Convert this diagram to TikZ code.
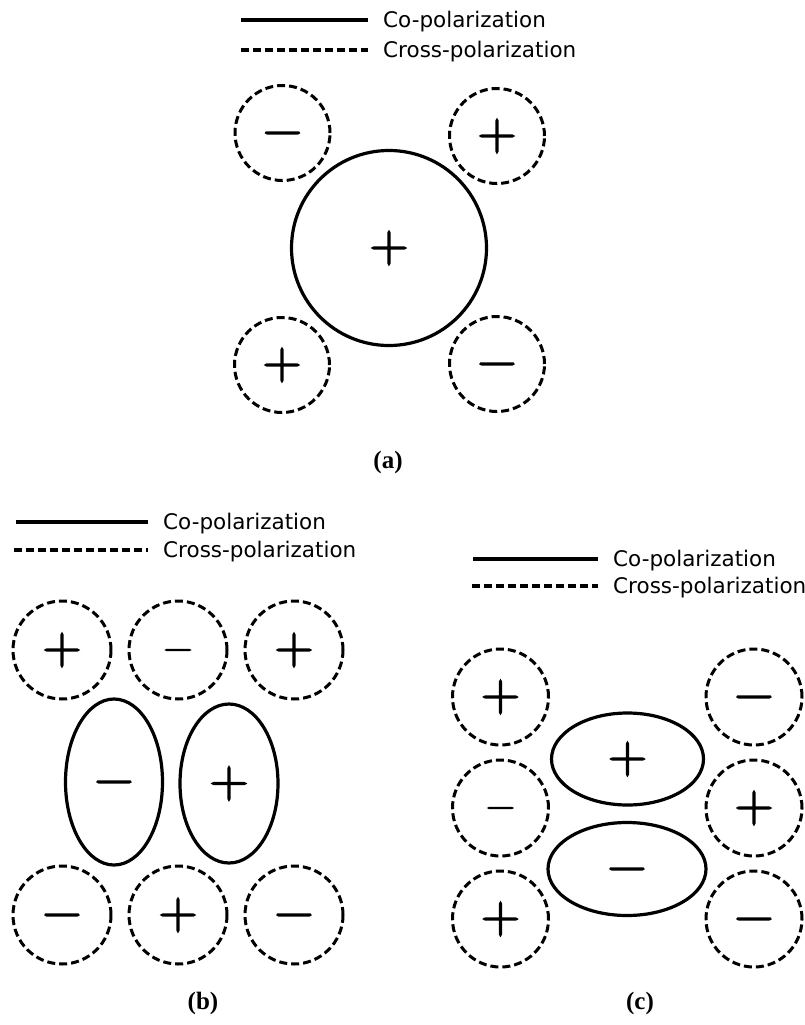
\documentclass[tikz,border=0pt]{standalone}
\usepackage{fontspec}
\setmainfont{DejaVu Sans}
\newfontfamily\labfont{Liberation Serif}
\newfontfamily\signfont{Latin Modern Roman}[FakeBold=2.5]
\usetikzlibrary{shapes.geometric}
\newcommand{\pl}{\vphantom{+}+}
\newcommand{\mi}{\vphantom{+}−}
\tikzset{
  x=1pt, y=-1pt,
  dcirc/.style={draw, circle, line width=3pt, dash pattern=on 8pt off 4pt, inner sep=0pt, minimum size=#1},
  scirc/.style={draw, circle, line width=3.2pt, inner sep=0pt, minimum size=#1},
  sell/.style={draw, ellipse, line width=3.2pt, inner sep=0pt},
  bigsign/.style={font=\signfont\fontsize{54}{55}\selectfont},
  smallsign/.style={font=\signfont\fontsize{40}{41}\selectfont},
  legtext/.style={anchor=base west, inner sep=0pt, font=\fontsize{21.5}{24}\selectfont},
  coline/.style={line width=3.3pt},
  crline/.style={line width=3.3pt, dash pattern=on 8pt off 4pt},
  caption/.style={font=\labfont\bfseries\fontsize{25}{28}\selectfont, inner sep=0pt}
}
\begin{document}
\begin{tikzpicture}
\useasboundingbox (0,0) rectangle (805,1025);

% ---------- (a) ----------
\coordinate (la1) at (241,20); \coordinate (la2) at (368,20);
\coordinate (la3) at (241,50); \coordinate (la4) at (368,50);
\draw[coline] (la1) -- (la2);
\draw[crline] (la3) -- (la4);
\node[legtext] (lat1) at (383,27.5) {Co-polarization};
\node[legtext] (lat2) at (383,57.5) {Cross-polarization};

\node[scirc=195pt, bigsign] (A0) at (389,248) {\pl};
\node[dcirc=95pt, bigsign] (A1) at (282.5,133) {\mi};
\node[dcirc=95pt, bigsign] (A2) at (497,136) {\pl};
\node[dcirc=95pt, bigsign] (A3) at (282,365) {\pl};
\node[dcirc=95pt, bigsign] (A4) at (497,364) {\mi};
\node[caption] (capa) at (388,462) {(a)};

% ---------- (b) ----------
\coordinate (lb1) at (16,522); \coordinate (lb2) at (148,522);
\coordinate (lb3) at (14,550); \coordinate (lb4) at (148,550);
\draw[coline] (lb1) -- (lb2);
\draw[crline] (lb3) -- (lb4);
\node[legtext] (lbt1) at (163,529.5) {Co-polarization};
\node[legtext] (lbt2) at (163,557.5) {Cross-polarization};

\node[dcirc=98pt, bigsign] (B1) at (62,650) {\pl};
\node[dcirc=98pt, smallsign] (B2) at (178,650) {\mi};
\node[dcirc=98pt, bigsign] (B3) at (294,650) {\pl};
\node[sell, minimum width=97pt, minimum height=166pt, bigsign] (B4) at (114,782) {\mi};
\node[sell, minimum width=98pt, minimum height=159pt, bigsign] (B5) at (229,783.5) {\pl};
\node[dcirc=98pt, bigsign] (B6) at (62,915) {\mi};
\node[dcirc=98pt, bigsign] (B7) at (178,915) {\pl};
\node[dcirc=98pt, bigsign] (B8) at (294,915) {\mi};
\node[caption] (capb) at (203,1003) {(b)};

% ---------- (c) ----------
\coordinate (lc1) at (473,559); \coordinate (lc2) at (598,559);
\coordinate (lc3) at (472,586); \coordinate (lc4) at (598,586);
\draw[coline] (lc1) -- (lc2);
\draw[crline] (lc3) -- (lc4);
\node[legtext] (lct1) at (613,566.5) {Co-polarization};
\node[legtext] (lct2) at (613,593.5) {Cross-polarization};

\node[dcirc=96pt, bigsign] (C1) at (500.5,697) {\pl};
\node[dcirc=96pt, smallsign] (C2) at (500.5,808) {\mi};
\node[dcirc=96pt, bigsign] (C3) at (500.5,919) {\pl};
\node[dcirc=96pt, bigsign] (C4) at (754,697) {\mi};
\node[dcirc=96pt, bigsign] (C5) at (754,808) {\pl};
\node[dcirc=96pt, bigsign] (C6) at (754,919) {\mi};
\node[sell, minimum width=152pt, minimum height=92pt, bigsign] (C7) at (627.5,759) {\pl};
\node[sell, minimum width=158pt, minimum height=93pt, bigsign] (C8) at (627,869) {\mi};
\node[caption] (capc) at (640,1003) {(c)};
\end{tikzpicture}
\end{document}
